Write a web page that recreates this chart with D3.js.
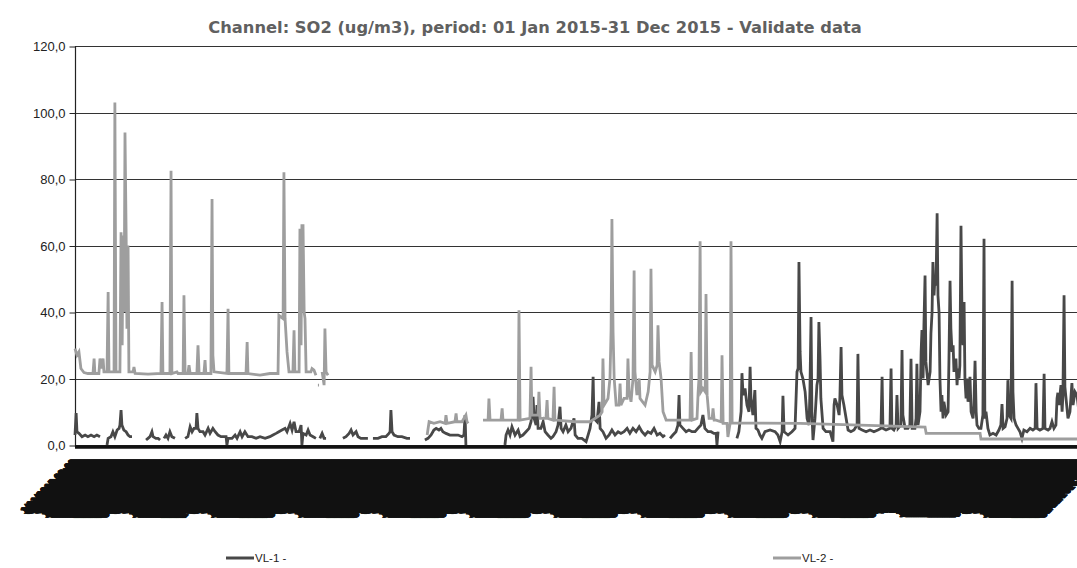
<!DOCTYPE html>
<html>
<meta charset="utf-8">
<title>SO2 2015</title>
<style>
  body { margin: 0; background: #fff; }
  .title { font-family: "DejaVu Sans", sans-serif; font-weight: bold; font-size: 16.3px; fill: #606060; }
  .yaxis text { font-family: "Liberation Sans", Arial, sans-serif; font-size: 13px; fill: #222; }
  .yaxis path { display: none; }
  .yaxis line { stroke: #222; }
  .grid line { stroke: #333; stroke-width: 1; }
  .xaxis path, .xaxis line { display: none; }
  .xaxis text { font-family: "Liberation Sans", Arial, sans-serif; font-weight: bold; font-size: 10px; fill: #111; }
  .legend text { font-family: "Liberation Sans", Arial, sans-serif; font-size: 11.5px; fill: #222; }
</style>
<body>
<div id="chart"></div>
<script src="https://cdn.jsdelivr.net/npm/d3@7"></script>
<script>

const chartTitle = 'Channel: SO2 (ug/m3), period: 01 Jan 2015-31 Dec 2015 - Validate data';
const yTicks = [0, 20, 40, 60, 80, 100, 120];
const seriesNames = ['VL-1 -', 'VL-2 -'];
const seriesColors = ['#484848', '#9e9e9e'];

// [day of year, ug/m3], null = no data
const vl1 = [
  [0.0,3],[0.4,9.6],[0.7,4],[1.4,3.5],[2.5,2.5],[3.6,3],[4.6,2.5],[5.7,3],[6.8,2.5],[7.8,3],[8.9,2.5],[9.2,null],
  [11.4,0],[11.8,2],[12.8,2.5],[13.5,4],[14.2,2.5],[15.0,4.5],[15.7,5],[16.0,6],[16.4,10.5],[16.7,6],[17.4,4.5],[18.2,4],[18.9,3],[19.6,2.5],[20.3,2.5],[20.6,null],
  [25.3,1.5],[26.0,2],[26.7,2.5],[27.4,4],[27.8,2.5],[28.8,2],[29.6,2],[30.3,1.5],[30.6,null],
  [31.7,2],[32.4,3],[33.1,2],[33.8,4],[34.5,2.5],[35.6,2],[35.9,null],
  [39.2,2],[40.2,2.5],[41.0,5.5],[41.7,4],[42.4,5],[43.1,5],[43.4,9.6],[43.8,5],[44.5,4],[45.6,4],[46.3,3],[47.4,5],[48.1,3.5],[49.1,5],[49.9,4],[50.9,3],[52.0,2.5],[53.1,2.5],[53.8,2.5],[54.1,0],[54.5,2],[55.9,2],[57.0,3],[57.7,2],[58.8,4],[59.5,2.5],[60.5,4],[61.6,2.5],[63.0,2.5],[64.5,2],[65.9,2.5],[67.7,2],[69.4,2.5],[70.5,3],[71.6,3.5],[72.6,4],[73.7,4.5],[74.8,5],[75.5,4],[76.6,6.5],[77.3,4.5],[78.0,7],[78.7,4],[79.8,4],[80.5,6],[80.8,0],[81.2,3.5],[82.3,3],[83.0,4.5],[83.7,3],[84.8,2.5],[85.8,2],[86.2,null],
  [87.2,2],[88.0,3.5],[88.7,2],[89.4,2],[89.7,null],
  [95.4,2],[96.5,2.5],[97.6,3.5],[98.3,4.5],[99.0,3],[100.1,4],[100.8,2.5],[101.8,2],[103.3,2],[104.3,2],[104.7,null],
  [106.1,2],[107.9,2],[109.3,2.5],[110.7,2.5],[111.8,3.5],[112.2,4],[112.5,10.5],[112.9,4],[113.6,3],[115.0,2.5],[116.4,2.5],[118.2,2],[119.3,2],[119.6,null],
  [124.6,1.5],[125.7,2],[126.8,3],[127.8,4.5],[128.6,5],[129.6,4.5],[130.3,5],[131.0,4],[132.1,3.5],[133.5,3],[135.0,3],[136.4,3],[137.8,2.5],[138.5,3],[138.9,9],[139.2,0],[139.5,null],
  [153.1,0],[153.5,3],[154.2,4.5],[154.9,3],[155.6,5.5],[156.7,3],[157.8,4.5],[158.5,2.5],[159.5,3],[160.6,4],[161.7,5],[162.4,7],[163.1,14.5],[163.5,8],[164.2,6],[164.5,12],[164.9,5],[165.9,5],[166.7,7],[167.4,4],[168.4,3],[169.5,2],[170.2,2.5],[171.3,4],[172.0,6],[172.7,11.5],[173.1,5],[173.8,4],[174.8,6],[175.6,4],[176.6,5],[177.7,8],[178.1,3],[179.1,2],
  [180.5,2],[182.0,1],[182.7,3],[183.4,5],[184.1,9],[184.5,20.5],[184.8,8],[185.9,7],[186.6,13],[187.0,5],[188.0,4],[189.1,2],[190.2,3],[191.2,4.5],[192.3,3],[193.4,4],[194.4,3.5],[195.5,4],[196.6,5],[197.6,3.5],[198.7,5],[199.8,4],[200.9,5.5],[201.9,4],[203.0,3],[204.0,4],[205.1,3.5],[206.2,5],[207.3,3],[208.3,3.5],[209.4,2.5],[210.1,3],[210.5,null],
  [211.9,2],[212.9,3],[214.0,4],[214.7,6],[215.1,15],[215.4,6],[216.5,5],[217.6,4],[218.6,4.5],[219.7,4],[220.8,4],[221.8,5],[222.9,6],[223.6,9],[224.3,5],[225.4,4],[226.5,4],[227.5,3.5],[228.3,3.5],[228.6,0],[229.0,4],[229.3,null],
  [235.7,2],[236.4,4],[237.2,10],[237.5,21.6],[237.9,15],[238.6,17],[239.3,12],[240.0,10],[240.4,23.5],[240.7,14],[241.4,9],[242.1,16.5],[242.5,5],[243.2,4.5],[243.9,3],[244.6,2],[245.7,4],[247.5,4.5],[249.3,4],[250.3,3],[251.1,1],[251.8,4],[252.1,14.8],[252.5,4],[253.9,3],[255.3,4],[256.4,5],
  [257.1,22],[257.5,23],[257.8,55],[258.2,28],[258.5,22],[259.2,20],[260.0,16],[260.7,8],[261.4,6],[261.7,16],[262.1,38.5],[262.4,10],[262.8,1.5],[263.5,8],[264.2,18],[264.6,20],[264.9,37],[265.3,26],[265.6,14],[266.4,5],[267.4,4],[268.9,4],[269.9,1],[270.3,12],[270.6,14],[271.4,12],[272.1,9],[272.4,15],[272.8,29.5],[273.1,15],[273.8,12],[274.6,8],[275.3,4.5],[276.3,4],[277.4,4.5],[278.5,6],[278.8,27.4],[279.2,5],
  [280.3,4.5],[281.7,4],[283.1,4.5],[284.5,4],[285.9,4.5],[287.0,5],[287.4,20.5],[287.7,5],[288.8,4.5],[290.2,5],[290.6,23],[290.9,5],[291.6,4.5],[292.4,6],[292.7,15],[293.1,5],[294.1,6],[294.5,28.6],[294.8,9],[295.6,5],[296.6,5],[297.3,6],[297.7,25.9],[298.1,5],[299.1,5],[299.5,8],[299.8,24.4],[300.2,6],[300.9,10],[301.3,28],[301.6,34.6],[302.0,20],[302.3,36],[302.7,51],[303.0,25],[303.8,18],[304.5,22],[304.8,33.6],[305.2,40],[305.5,55],[305.9,45],[306.2,50],[306.6,48],[307.0,69.7],[307.3,45],[307.7,39.6],[308.0,20],[308.4,10],[308.7,15],[309.1,8],[309.4,13],[310.2,9],[310.9,10],
  [311.2,25],[311.6,49.4],[311.9,35],[312.3,28],[312.7,30],[313.0,22],[313.4,24],[313.7,26],[314.1,18],[314.4,23],[314.8,20],[315.1,24],[315.5,65.9],[315.9,35],[316.2,30],[316.6,43],[316.9,20],[317.3,14],[317.6,20],[318.0,13],[318.7,20.5],[319.1,10],[319.8,8],[320.1,12],[320.5,25.3],[320.9,10],[321.2,6],[321.9,5],[322.6,5],[323.3,9],[323.7,62],[324.0,8],[324.4,10],[325.1,5],[325.8,3],[326.9,3.5],[328.0,3],[329.0,4.5],[329.7,6],[330.1,12.3],[330.5,5],
  [331.2,5.5],[331.9,8],[332.2,19.5],[332.6,9],[333.3,8],[333.7,49.4],[334.0,16],[334.4,8],[335.1,6],[335.8,5],[336.5,4],[337.2,2],[337.9,4.5],[339.0,4],[340.1,5],[341.1,4.5],[341.9,5],[342.2,18.6],[342.6,5],[343.6,4.5],[344.7,5],[345.1,21.4],[345.4,5],[346.5,4.5],[347.2,5],[347.9,7],[348.6,5],[349.3,6],[349.7,14],[350.0,15.7],[350.4,12],[351.1,18],[351.5,10],[351.8,15],[352.2,45],[352.5,17.5],[352.9,14],[353.6,8],[354.3,10],[355.0,18.6],[355.4,12],[356.1,16],[356.8,15],[357.5,10],[358.6,6],[361.5,5],[364.4,4]
];

const vl2 = [
  [0.0,29],[0.7,27],[1.4,28],[2.1,23],[3.2,21.8],[4.6,21.5],[6.4,21.5],[6.8,26],[7.1,21.5],[8.5,21.5],[8.9,26],[9.4,23],[10.0,26],[10.3,22],[11.4,22],[11.8,46],[12.1,22],[13.9,22],[14.2,103],[14.6,22],[16.0,22],[16.4,64],[16.8,30],[17.1,63],[17.5,40],[17.8,94],[18.2,64],[18.5,35],[18.9,60],[19.2,22],[20.7,22],[21.0,23.5],[21.4,21.5],[26.0,21.3],
  [30.6,21.5],[31.0,43],[31.3,21.5],[33.8,21.5],[34.2,82.5],[34.5,21.5],[36.3,22],[36.7,21.5],[38.5,21.5],[38.8,45],[39.2,21.5],[40.2,21.5],[40.6,24],[41.0,21.5],[43.4,21.5],[43.8,30],[44.2,21.5],[45.9,21.5],[46.3,25.5],[46.6,21.5],[48.4,21.5],[48.8,74],[49.1,27],[49.5,22],[54.1,21.5],[54.5,41],[54.8,21.5],[58.8,21.5],[60.9,21.5],[61.3,31],[61.6,21.5],[65.9,21],[69.4,21.5],
  [72.3,21.5],[72.6,39],[74.1,38],[74.4,82],[74.8,38],[75.5,28],[76.2,22],[77.6,22],[78.0,34.5],[78.3,22],[79.8,22],[80.1,65],[80.5,30],[80.8,66],[81.2,66],[81.6,40],[81.9,38],[82.3,22],[84.0,22],[84.4,23],[85.1,22.5],[85.8,21],[86.2,null],[86.5,18],[86.9,18],[87.2,null],[88.0,22],[88.7,18],[89.0,35],[89.4,22],[90.1,21],[90.4,null],
  [125.4,3],[126.1,7],[127.8,6.5],[130.0,7],[131.8,6.5],[132.1,9],[132.5,6.5],[135.3,7],[135.7,9.5],[136.0,7],[137.8,7],[139.2,9],[139.6,7],[140.0,6.5],[140.3,null],
  [145.3,7.5],[147.1,7.5],[147.4,14],[147.8,7.5],[151.7,7.5],[152.1,11],[152.4,7.5],[157.8,7.5],[158.1,40.5],[158.5,7.5],[162.0,8],[162.4,23.5],[162.7,9],[164.9,9],[165.2,16],[165.6,8],[167.7,8],[168.1,13.5],[168.4,8],[170.2,7.5],[170.6,17.5],[170.9,7.5],[178.1,7],[183.4,7],
  [187.0,9],[187.7,10],[188.0,26],[188.4,12],[189.8,14],[190.5,20],[190.9,34.5],[191.2,68],[191.6,34],[192.0,20],[192.7,12],[193.7,12],[194.1,18.5],[194.4,12],[195.5,14],[196.6,14],[196.9,26],[197.3,16],[198.0,13],[198.7,20],[199.1,52.5],[199.4,22],[200.1,15],[200.9,20],[201.2,14],[203.0,12],[204.1,16],[204.8,22],[205.1,53],[205.5,24],[206.6,22],[207.3,24],[207.6,36],[208.0,25],[208.7,20],[209.4,10],[210.5,7.5],
  [215.5,7.5],[219.0,7.5],[219.4,28],[219.8,7.5],[221.5,8],[221.9,16],[222.2,20],[222.6,61.3],[222.9,16],[223.6,17],[224.4,16],[224.7,45.4],[225.1,15],[225.8,8],[226.9,8],[227.2,11],[227.6,7.5],[228.3,7.5],[230.1,7],[230.4,27],[230.8,6.5],[232.2,6.5],[232.5,2.4],[233.3,6.6],[233.6,61.3],[234.0,6.6],
  [243.9,6.6],[258.2,6.5],[279.6,6],[302.7,5.4],[303.1,3.5],[322.3,3.5],[322.6,1.8],[365,1.8]
];

const W = 1077, H = 568;
const start = new Date(Date.UTC(2015, 0, 1));
const end = new Date(Date.UTC(2016, 0, 1));
const labelHours = d3.utcHour.every(3).range(start, end);
const dayToDate = d => new Date(start.getTime() + d * 864e5);

const svg = d3.select('#chart').append('svg')
  .attr('width', W)
  .attr('height', H);

const x = d3.scaleUtc().domain([start, end]).range([75, 1100]);
const y = d3.scaleLinear().domain([0, 120]).range([445, 46]);

svg.append('text')
  .attr('class', 'title')
  .attr('x', 535)
  .attr('y', 33)
  .attr('text-anchor', 'middle')
  .text(chartTitle);

// grid
svg.append('g')
  .attr('class', 'grid')
  .selectAll('line')
  .data(yTicks)
  .enter().append('line')
  .attr('x1', 75).attr('x2', W)
  .attr('y1', d => Math.round(y(d)) + 0.5)
  .attr('y2', d => Math.round(y(d)) + 0.5);

svg.append('g')
  .attr('class', 'yaxis')
  .attr('transform', 'translate(75.5,0.5)')
  .call(d3.axisLeft(y).tickValues(yTicks).tickSize(6).tickPadding(4)
    .tickFormat(d => d3.format('.1f')(d).replace('.', ',')));

// left axis line
svg.append('line')
  .attr('x1', 75.5).attr('x2', 75.5)
  .attr('y1', y(120)).attr('y2', y(0) + 2)
  .attr('stroke', '#222').attr('stroke-width', 1.2);

const line = d3.line()
  .defined(d => d[1] != null)
  .x(d => x(dayToDate(d[0])))
  .y(d => y(d[1]));

const plot = svg.append('g');
[vl1, vl2].forEach((s, i) => {
  plot.append('path')
    .datum(s)
    .attr('fill', 'none')
    .attr('stroke', seriesColors[i])
    .attr('stroke-width', 2.8)
    .attr('stroke-linejoin', 'miter')
    .attr('d', line);
});

// thick category axis
svg.append('line')
  .attr('x1', 75).attr('x2', W)
  .attr('y1', y(0) + 2).attr('y2', y(0) + 2)
  .attr('stroke', '#111').attr('stroke-width', 3.5);

// the hourly labels pile into one black band
const fmt = d3.utcFormat('%-d/%m/%Y %H:%M');
svg.append('g')
  .attr('class', 'xaxis')
  .attr('transform', `translate(0,${y(0) + 18})`)
  .call(d3.axisBottom(x).tickValues(labelHours).tickSize(0).tickFormat(fmt))
  .selectAll('text')
  .attr('x', 0).attr('y', 0).attr('dy', '0')
  .attr('text-anchor', 'end')
  .attr('transform', 'rotate(-45)');

// legend
const legend = svg.append('g').attr('class', 'legend');
const legendX = [226, 773];
seriesNames.forEach((name, i) => {
  const g = legend.append('g').attr('transform', `translate(${legendX[i]},558)`);
  g.append('line').attr('x1', 0).attr('x2', 28).attr('y1', 0).attr('y2', 0)
    .attr('stroke', seriesColors[i]).attr('stroke-width', 3);
  g.append('text').attr('x', 29).attr('y', 4).text(name);
});

</script>
</body>
</html>
